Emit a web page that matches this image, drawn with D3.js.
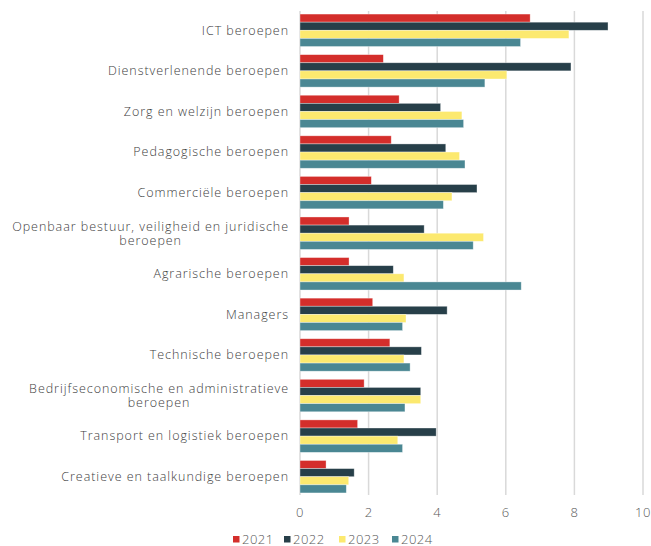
<!DOCTYPE html>
<html>
<head>
<meta charset="utf-8">
<script src="https://cdn.jsdelivr.net/npm/d3@7"></script>
<style>
  body { margin: 0; background: #fff; }
  text { font-family: "Open Sans", sans-serif; font-weight: 300; }
</style>
</head>
<body>
<script>
let categories = [
    ["ICT beroepen"],
    ["Dienstverlenende beroepen"],
    ["Zorg en welzijn beroepen"],
    ["Pedagogische beroepen"],
    ["Commerciële beroepen"],
    ["Openbaar bestuur, veiligheid en juridische", "beroepen"],
    ["Agrarische beroepen"],
    ["Managers"],
    ["Technische beroepen"],
    ["Bedrijfseconomische en administratieve", "beroepen"],
    ["Transport en logistiek beroepen"],
    ["Creatieve en taalkundige beroepen"]
];
let years = ["2021", "2022", "2023", "2024"];
let colors = ["#d42e2b", "#273f49", "#fce96f", "#4a8793"];

let values2021 = [6.71, 2.43, 2.89, 2.66, 2.08, 1.43, 1.43, 2.12, 2.62, 1.87, 1.68, 0.76];
let values2022 = [8.98, 7.90, 4.10, 4.25, 5.16, 3.62, 2.72, 4.29, 3.54, 3.52, 3.97, 1.58];
let values2023 = [7.84, 6.03, 4.72, 4.65, 4.43, 5.35, 3.03, 3.09, 3.03, 3.52, 2.85, 1.42];
let values2024 = [6.43, 5.39, 4.77, 4.81, 4.18, 5.05, 6.45, 2.99, 3.21, 3.06, 2.99, 1.35];
let series = [values2021, values2022, values2023, values2024];

let xTicks = [0, 2, 4, 6, 8, 10];

let width = 651, height = 546;

let svg = d3.select("body")
    .append("svg")
    .attr("width", width)
    .attr("height", height);

let x = d3.scaleLinear().domain([0, 10]).range([300, 643]);

let y = d3.scaleBand()
    .domain(d3.range(categories.length))
    .range([10, 497])
    .paddingInner(0.2)
    .paddingOuter(0.1);

let y1 = d3.scaleBand()
    .domain(d3.range(years.length))
    .range([0, y.bandwidth()]);

// gridlines
svg.append("g")
    .selectAll("line")
    .data(xTicks)
    .join("line")
    .attr("x1", d => x(d))
    .attr("x2", d => x(d))
    .attr("y1", 11)
    .attr("y2", 495)
    .style("stroke", "#d9d9d9")
    .style("stroke-width", 1.5);

// bars
let groups = svg.append("g")
    .selectAll("g")
    .data(categories)
    .join("g")
    .attr("transform", (d, i) => "translate(0," + y(i) + ")");

groups.selectAll("rect")
    .data((d, i) => series.map((s, j) => ({value: s[i], k: j})))
    .join("rect")
    .attr("x", x(0))
    .attr("y", d => y1(d.k))
    .attr("width", d => x(d.value) - x(0))
    .attr("height", y1.bandwidth())
    .style("fill", d => colors[d.k])
    .style("stroke", "#ffffff")
    .style("stroke-opacity", 0.5)
    .style("stroke-width", 0.7);

// category labels
function label(g, txt, xx, yy, anchor) {
    return g.append("text")
        .attr("x", xx)
        .attr("y", yy)
        .attr("dy", "0.35em")
        .attr("text-anchor", anchor)
        .style("font-size", "12.5px")
        .style("letter-spacing", "0.95px")
        .style("fill", "#404040")
        .text(txt);
}

groups.each(function (d) {
    let g = d3.select(this);
    let cy = y.bandwidth() / 2;
    if (d.length === 1) {
        label(g, d[0], 289, cy, "end");
    } else {
        let t1 = label(g, d[0], 289, cy - 7, "end");
        let w = t1.node().getComputedTextLength();
        label(g, d[1], 289 - w / 2, cy + 7, "middle");
    }
});

// x axis labels
svg.append("g")
    .selectAll("text")
    .data(xTicks)
    .join("text")
    .attr("x", d => x(d))
    .attr("y", 512)
    .attr("dy", "0.35em")
    .attr("text-anchor", "middle")
    .style("font-size", "13px")
    .style("letter-spacing", "0.5px")
    .style("fill", "#595959")
    .text(d => d);

// legend
let legend = svg.append("g");
let lx = [233, 284, 339, 392];
years.forEach((yr, i) => {
    legend.append("rect")
        .attr("x", lx[i])
        .attr("y", 536)
        .attr("width", 6.5)
        .attr("height", 6.5)
        .style("fill", colors[i]);
    legend.append("text")
        .attr("x", lx[i] + 9)
        .attr("y", 539)
        .attr("dy", "0.35em")
        .style("font-size", "13px")
        .style("letter-spacing", "0.5px")
        .style("fill", "#595959")
        .text(yr);
});
</script>
</body>
</html>
